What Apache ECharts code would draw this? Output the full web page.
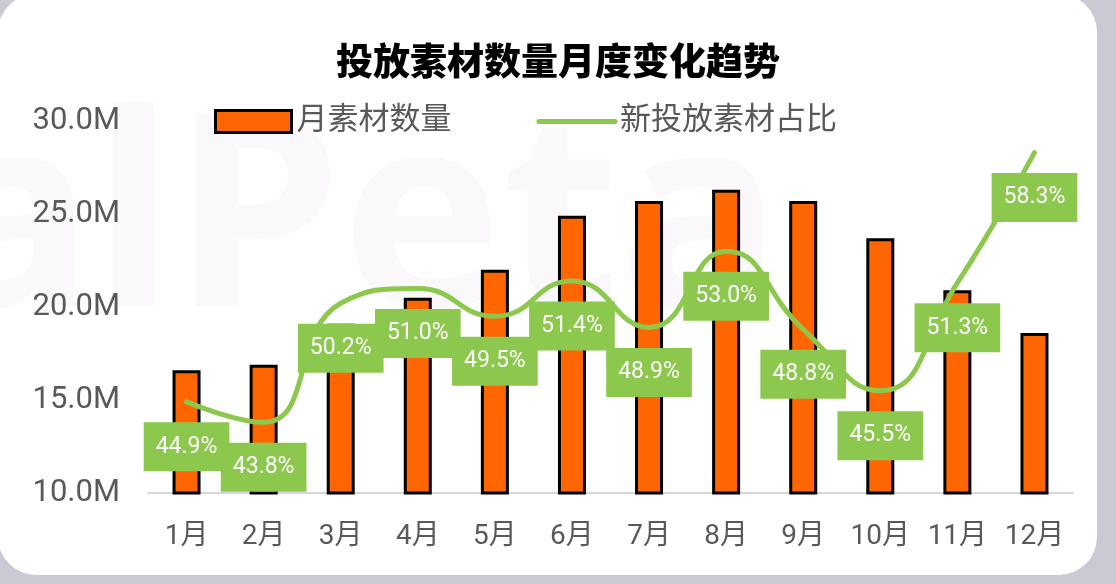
<!DOCTYPE html>
<html>
<head>
<meta charset="utf-8">
<script src="https://cdn.jsdelivr.net/npm/echarts@6/dist/echarts.min.js"></script>
<style>
  html, body { margin: 0; padding: 0; background: #c9cad4; }
  #main { width: 1116px; height: 584px; }
</style>
</head>
<body>
<div id="main"></div>
<script>
// 月份
const months = ['1月', '2月', '3月', '4月', '5月', '6月', '7月', '8月', '9月', '10月', '11月', '12月'];
// 月素材数量（单位 M）
const materialCount = [16.6, 16.9, 19.1, 20.5, 22.0, 24.9, 25.7, 26.3, 25.7, 23.7, 20.9, 18.6];
// 新投放素材占比（%）
const newShare = [44.9, 43.8, 50.2, 51.0, 49.5, 51.4, 48.9, 53.0, 48.8, 45.5, 51.3, 58.3];

const font = 'Roboto, "Noto Sans CJK SC"';
const orange = '#ff6600';
const green = '#8cc84e';

let chart = echarts.init(document.getElementById('main'));
chart.setOption({
    backgroundColor: '#c9cad4',
    textStyle: { fontFamily: font },
    graphic: [
        {
            type: 'rect',
            z: -10,
            shape: { x: -2, y: -6, width: 1099, height: 581, r: 38 },
            style: { fill: '#ffffff' }
        },
        {
            type: 'text',
            z: -9,
            left: -69,
            top: 95,
            style: {
                text: 'alPeta',
                font: 'bold 270px "Noto Sans"',
                fill: '#fbf8fc'
            }
        }
    ],
    title: {
        text: '投放素材数量月度变化趋势',
        left: 331,
        top: 37,
        textStyle: {
            fontFamily: 'Noto Sans CJK SC',
            fontSize: 37,
            fontWeight: 900,
            color: '#000'
        }
    },
    legend: {
        left: 209,
        top: 101,
        itemWidth: 76,
        itemHeight: 22,
        itemGap: 85,
        textStyle: { fontSize: 31, color: '#595959', fontFamily: font },
        data: [
            {
                name: '月素材数量',
                icon: 'rect',
                itemStyle: { color: orange, borderColor: '#000', borderWidth: 3 }
            },
            {
                name: '新投放素材占比',
                itemStyle: { color: 'rgba(0,0,0,0)', borderWidth: 0 },
                lineStyle: { width: 5, color: green, cap: 'round' }
            }
        ]
    },
    grid: {
        left: 148,
        right: 43,
        top: 121,
        bottom: 91
    },
    xAxis: {
        type: 'category',
        data: months,
        axisTick: { show: false },
        axisLine: { lineStyle: { color: '#d6d6d6', width: 2 } },
        axisLabel: { interval: 0, fontSize: 28, color: '#595959', margin: 30 }
    },
    yAxis: [
        {
            type: 'value',
            min: 10,
            max: 30,
            interval: 5,
            splitLine: { show: false },
            axisLine: { show: false },
            axisLabel: {
                fontSize: 31,
                color: '#595959',
                margin: 28,
                formatter: v => v.toFixed(1) + 'M'
            }
        },
        {
            type: 'value',
            min: 40,
            max: 60,
            show: false,
            splitLine: { show: false }
        }
    ],
    series: [
        {
            name: '月素材数量',
            type: 'bar',
            barWidth: 28,
            itemStyle: { color: orange, borderColor: '#000', borderWidth: 3 },
            data: materialCount
        },
        {
            name: '新投放素材占比',
            type: 'line',
            yAxisIndex: 1,
            smooth: 0.5,
            symbol: 'circle',
            symbolSize: 1,
            itemStyle: { color: 'rgba(0,0,0,0)' },
            lineStyle: { color: green, width: 5, cap: 'round' },
            label: {
                show: true,
                position: 'inside',
                offset: [0, 45],
                color: '#fff',
                fontSize: 23,
                textBorderWidth: 0,
                borderWidth: 0,
                borderColor: green,
                backgroundColor: green,
                padding: [13, 12],
                formatter: p => p.value.toFixed(1) + '%'
            },
            z: 3,
            data: newShare
        }
    ]
});
</script>
</body>
</html>
